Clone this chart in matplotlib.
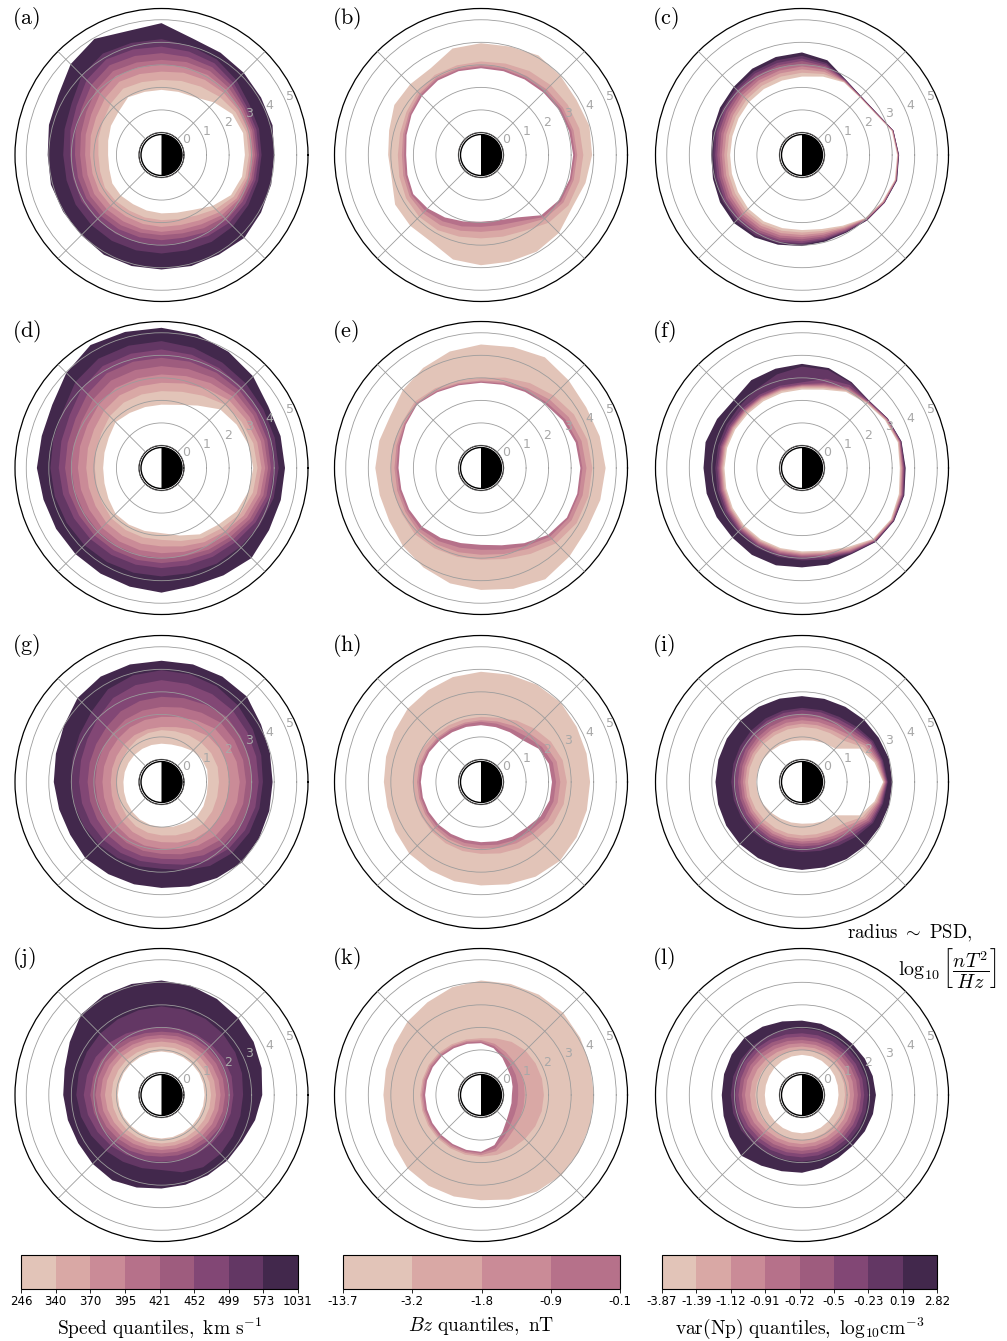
import numpy as np
import matplotlib
matplotlib.use("Agg")
import matplotlib.pyplot as plt
from matplotlib.colors import ListedColormap, BoundaryNorm
from matplotlib.cm import ScalarMappable
from matplotlib.patches import Circle, Wedge

plt.rcParams['mathtext.fontset'] = 'cm'

# Magnetic local time sectors, in degrees around the dial
mlt_deg = np.arange(0, 360, 15)

# Quantile-bin colours (light -> dark)
palette = ['#e2c4b8', '#d9a8a5', '#ca8b97', '#b6718a',
           '#9e5c7e', '#824775', '#633764', '#42284c']

speed_ticks = ['246', '340', '370', '395', '421', '452', '499', '573', '1031']
bz_ticks = ['-13.7', '-3.2', '-1.8', '-0.9', '-0.1']
np_ticks = ['-3.87', '-1.39', '-1.12', '-0.91', '-0.72', '-0.5', '-0.23', '0.19', '2.82']

# log10 PSD band boundaries per MLT sector (rows), innermost -> outermost (columns)
psd_a = [
    [2.70, 2.88, 2.97, 3.06, 3.15, 3.24, 3.33, 3.44, 4.00],
    [2.75, 2.90, 3.00, 3.08, 3.17, 3.26, 3.36, 3.48, 4.10],
    [2.63, 2.80, 2.95, 3.05, 3.15, 3.25, 3.35, 3.50, 4.10],
    [2.30, 2.65, 2.90, 3.08, 3.22, 3.38, 3.52, 3.70, 4.16],
    [1.96, 2.50, 2.85, 3.10, 3.30, 3.50, 3.70, 3.90, 4.24],
    [1.90, 2.40, 2.78, 3.05, 3.27, 3.50, 3.75, 4.00, 4.35],
    [1.89, 2.33, 2.70, 3.00, 3.22, 3.52, 3.81, 4.14, 4.85],
    [1.90, 2.35, 2.72, 3.02, 3.25, 3.55, 3.85, 4.15, 4.70],
    [1.96, 2.40, 2.75, 3.05, 3.30, 3.60, 3.90, 4.20, 4.95],
    [1.70, 2.20, 2.55, 2.85, 3.10, 3.40, 3.70, 4.00, 4.70],
    [1.59, 2.00, 2.35, 2.60, 2.85, 3.10, 3.35, 3.60, 4.29],
    [1.45, 1.90, 2.25, 2.48, 2.70, 2.95, 3.18, 3.45, 4.17],
    [1.37, 1.80, 2.17, 2.39, 2.61, 2.84, 3.06, 3.36, 4.05],
    [1.40, 1.82, 2.17, 2.40, 2.62, 2.84, 3.06, 3.36, 4.08],
    [1.52, 1.90, 2.20, 2.45, 2.65, 2.85, 3.10, 3.40, 4.04],
    [1.55, 1.88, 2.18, 2.42, 2.62, 2.82, 3.05, 3.40, 4.03],
    [1.52, 1.85, 2.15, 2.40, 2.60, 2.80, 3.05, 3.40, 4.11],
    [1.55, 1.87, 2.17, 2.40, 2.57, 2.78, 3.02, 3.38, 4.10],
    [1.59, 1.89, 2.19, 2.41, 2.56, 2.78, 3.00, 3.37, 4.08],
    [1.65, 1.95, 2.22, 2.43, 2.60, 2.80, 3.02, 3.38, 4.10],
    [1.81, 2.10, 2.35, 2.55, 2.75, 2.95, 3.15, 3.45, 4.10],
    [2.20, 2.40, 2.60, 2.78, 2.92, 3.08, 3.25, 3.48, 4.20],
    [2.56, 2.70, 2.85, 2.95, 3.05, 3.15, 3.30, 3.45, 4.10],
    [2.70, 2.85, 2.95, 3.03, 3.12, 3.22, 3.32, 3.44, 4.04],
]

psd_b = [
    [3.09, 3.18, 3.27, 3.54, 3.93],
    [3.05, 3.15, 3.25, 3.52, 3.98],
    [3.00, 3.10, 3.20, 3.45, 3.89],
    [2.92, 3.02, 3.12, 3.38, 3.98],
    [2.87, 2.95, 3.05, 3.30, 4.10],
    [2.85, 2.93, 3.02, 3.20, 3.98],
    [2.85, 2.93, 3.00, 3.15, 3.96],
    [2.85, 2.92, 2.99, 3.12, 3.89],
    [2.82, 2.90, 2.97, 3.10, 3.45],
    [2.70, 2.78, 2.85, 2.97, 3.44],
    [2.56, 2.63, 2.70, 2.82, 3.44],
    [2.42, 2.50, 2.58, 2.72, 3.22],
    [2.32, 2.41, 2.51, 2.69, 3.12],
    [2.38, 2.47, 2.57, 2.75, 3.10],
    [2.47, 2.56, 2.66, 2.84, 3.40],
    [2.35, 2.50, 2.65, 2.88, 3.44],
    [2.20, 2.40, 2.60, 2.85, 3.44],
    [2.05, 2.28, 2.48, 2.75, 3.80],
    [1.96, 2.19, 2.41, 2.70, 3.89],
    [2.00, 2.22, 2.45, 2.75, 3.90],
    [2.20, 2.40, 2.60, 2.88, 3.95],
    [2.78, 2.90, 3.00, 3.25, 3.89],
    [3.00, 3.10, 3.22, 3.48, 3.67],
    [3.08, 3.16, 3.26, 3.52, 3.80],
]

psd_c = [
    [3.22, 3.24, 3.25, 3.26, 3.27, 3.28, 3.29, 3.30, 3.31],
    [3.12, 3.14, 3.15, 3.16, 3.17, 3.18, 3.19, 3.20, 3.20],
    [2.72, 2.73, 2.74, 2.75, 2.76, 2.77, 2.78, 2.79, 2.80],
    [2.62, 2.63, 2.64, 2.65, 2.66, 2.67, 2.68, 2.69, 2.70],
    [2.72, 2.74, 2.76, 2.78, 2.80, 2.82, 2.84, 2.86, 2.87],
    [2.60, 2.72, 2.82, 2.92, 3.00, 3.08, 3.15, 3.22, 3.35],
    [2.48, 2.65, 2.80, 2.93, 3.05, 3.17, 3.28, 3.40, 3.55],
    [2.42, 2.60, 2.75, 2.88, 3.00, 3.12, 3.23, 3.35, 3.50],
    [2.38, 2.55, 2.70, 2.83, 2.95, 3.07, 3.18, 3.28, 3.42],
    [2.32, 2.48, 2.62, 2.75, 2.87, 2.98, 3.08, 3.18, 3.28],
    [2.25, 2.40, 2.53, 2.65, 2.77, 2.88, 2.98, 3.08, 3.20],
    [2.20, 2.35, 2.48, 2.60, 2.71, 2.82, 2.92, 3.02, 3.12],
    [2.19, 2.33, 2.45, 2.56, 2.66, 2.76, 2.85, 2.94, 3.03],
    [2.22, 2.36, 2.48, 2.59, 2.69, 2.79, 2.89, 2.98, 3.09],
    [2.28, 2.42, 2.55, 2.67, 2.78, 2.88, 2.98, 3.08, 3.20],
    [2.37, 2.50, 2.62, 2.73, 2.84, 2.95, 3.05, 3.15, 3.27],
    [2.40, 2.52, 2.63, 2.74, 2.85, 2.95, 3.04, 3.13, 3.22],
    [2.36, 2.48, 2.59, 2.70, 2.80, 2.89, 2.98, 3.06, 3.12],
    [2.33, 2.44, 2.55, 2.65, 2.74, 2.83, 2.91, 2.98, 3.04],
    [2.40, 2.49, 2.58, 2.66, 2.74, 2.81, 2.87, 2.92, 2.98],
    [2.62, 2.68, 2.73, 2.78, 2.83, 2.87, 2.91, 2.94, 2.97],
    [2.96, 2.98, 3.00, 3.02, 3.04, 3.06, 3.07, 3.08, 3.10],
    [3.12, 3.14, 3.16, 3.18, 3.20, 3.21, 3.22, 3.23, 3.24],
    [3.26, 3.28, 3.30, 3.31, 3.32, 3.33, 3.34, 3.35, 3.37],
]

psd_d = [
    [3.07, 3.26, 3.44, 3.60, 3.73, 3.86, 4.00, 4.20, 4.48],
    [3.00, 3.22, 3.40, 3.57, 3.72, 3.86, 4.00, 4.20, 4.47],
    [2.85, 3.10, 3.32, 3.52, 3.70, 3.86, 4.02, 4.22, 4.47],
    [2.68, 2.98, 3.25, 3.48, 3.68, 3.88, 4.07, 4.30, 4.75],
    [2.20, 2.70, 3.05, 3.35, 3.62, 3.88, 4.12, 4.40, 4.95],
    [1.90, 2.50, 2.88, 3.22, 3.55, 3.88, 4.20, 4.52, 5.13],
    [1.81, 2.41, 2.78, 3.15, 3.52, 3.89, 4.26, 4.63, 5.22],
    [1.80, 2.38, 2.75, 3.12, 3.50, 3.88, 4.25, 4.62, 5.25],
    [1.82, 2.35, 2.72, 3.10, 3.48, 3.85, 4.22, 4.60, 5.30],
    [1.88, 2.25, 2.60, 2.95, 3.30, 3.65, 4.00, 4.40, 4.97],
    [1.70, 2.08, 2.45, 2.80, 3.10, 3.40, 3.70, 4.05, 4.60],
    [1.62, 2.00, 2.38, 2.74, 3.03, 3.31, 3.60, 3.97, 4.50],
    [1.59, 1.96, 2.34, 2.71, 3.00, 3.28, 3.56, 3.93, 4.53],
    [1.62, 1.98, 2.34, 2.70, 2.98, 3.25, 3.52, 3.90, 4.42],
    [1.72, 2.05, 2.38, 2.70, 2.97, 3.22, 3.48, 3.86, 4.40],
    [1.88, 2.15, 2.45, 2.74, 2.98, 3.22, 3.46, 3.84, 4.40],
    [1.90, 2.18, 2.47, 2.76, 2.99, 3.22, 3.45, 3.82, 4.41],
    [1.89, 2.19, 2.48, 2.77, 3.00, 3.22, 3.44, 3.81, 4.45],
    [1.89, 2.19, 2.48, 2.78, 3.00, 3.22, 3.44, 3.81, 4.53],
    [2.10, 2.35, 2.60, 2.85, 3.05, 3.25, 3.47, 3.83, 4.42],
    [2.40, 2.60, 2.80, 3.00, 3.18, 3.36, 3.55, 3.90, 4.50],
    [2.56, 2.78, 2.98, 3.15, 3.32, 3.48, 3.65, 3.95, 4.65],
    [2.85, 3.05, 3.22, 3.38, 3.53, 3.67, 3.82, 4.05, 4.51],
    [3.00, 3.20, 3.38, 3.54, 3.68, 3.82, 3.96, 4.15, 4.48],
]

psd_e = [
    [3.41, 3.50, 3.68, 3.94, 4.53],
    [3.35, 3.45, 3.62, 3.88, 4.45],
    [3.20, 3.32, 3.50, 3.76, 4.39],
    [3.02, 3.12, 3.30, 3.55, 4.50],
    [2.90, 2.98, 3.10, 3.35, 4.67],
    [2.82, 2.88, 2.96, 3.15, 4.55],
    [2.78, 2.83, 2.88, 3.00, 4.48],
    [2.80, 2.85, 2.90, 3.02, 4.35],
    [2.88, 2.93, 2.98, 3.08, 4.13],
    [3.00, 3.04, 3.08, 3.16, 3.90],
    [2.85, 2.90, 2.95, 3.05, 3.64],
    [2.72, 2.80, 2.88, 3.03, 3.67],
    [2.66, 2.75, 2.84, 3.02, 3.69],
    [2.66, 2.75, 2.85, 3.03, 3.65],
    [2.68, 2.78, 2.88, 3.06, 3.70],
    [2.69, 2.82, 2.95, 3.15, 3.90],
    [2.58, 2.75, 2.92, 3.12, 4.10],
    [2.45, 2.66, 2.87, 3.08, 4.30],
    [2.41, 2.63, 2.85, 3.07, 4.41],
    [2.55, 2.75, 2.95, 3.18, 4.55],
    [2.85, 3.00, 3.15, 3.40, 4.70],
    [3.20, 3.32, 3.48, 3.72, 4.55],
    [3.40, 3.48, 3.64, 3.90, 4.43],
    [3.42, 3.50, 3.67, 3.93, 4.48],
]

psd_f = [
    [3.34, 3.38, 3.42, 3.45, 3.48, 3.51, 3.54, 3.57, 3.60],
    [3.40, 3.43, 3.46, 3.48, 3.50, 3.52, 3.54, 3.56, 3.57],
    [3.25, 3.28, 3.31, 3.33, 3.35, 3.37, 3.38, 3.39, 3.40],
    [3.05, 3.08, 3.11, 3.13, 3.15, 3.17, 3.19, 3.21, 3.22],
    [2.90, 2.95, 3.00, 3.05, 3.10, 3.15, 3.25, 3.35, 3.40],
    [2.60, 2.68, 2.74, 2.79, 2.84, 2.90, 3.10, 3.50, 3.59],
    [2.48, 2.56, 2.61, 2.65, 2.68, 2.72, 2.80, 3.50, 3.62],
    [2.45, 2.53, 2.58, 2.62, 2.66, 2.70, 2.78, 3.30, 3.56],
    [2.42, 2.50, 2.56, 2.60, 2.64, 2.68, 2.76, 3.05, 3.50],
    [2.40, 2.48, 2.54, 2.58, 2.62, 2.66, 2.74, 2.90, 3.27],
    [2.42, 2.49, 2.54, 2.58, 2.62, 2.67, 2.74, 2.86, 3.35],
    [2.44, 2.50, 2.55, 2.60, 2.65, 2.70, 2.76, 2.85, 3.43],
    [2.44, 2.50, 2.55, 2.60, 2.65, 2.70, 2.76, 2.85, 3.37],
    [2.48, 2.54, 2.59, 2.64, 2.69, 2.74, 2.80, 2.89, 3.38],
    [2.55, 2.61, 2.66, 2.71, 2.76, 2.81, 2.87, 2.96, 3.37],
    [2.62, 2.68, 2.73, 2.78, 2.83, 2.88, 2.94, 3.03, 3.37],
    [2.66, 2.72, 2.77, 2.82, 2.87, 2.92, 2.98, 3.07, 3.45],
    [2.68, 2.74, 2.79, 2.84, 2.89, 2.94, 3.00, 3.09, 3.47],
    [2.70, 2.76, 2.81, 2.86, 2.91, 2.96, 3.02, 3.10, 3.41],
    [2.80, 2.86, 2.91, 2.96, 3.01, 3.06, 3.12, 3.20, 3.44],
    [3.05, 3.12, 3.18, 3.23, 3.27, 3.31, 3.35, 3.38, 3.41],
    [3.45, 3.48, 3.51, 3.54, 3.56, 3.58, 3.60, 3.62, 3.64],
    [3.55, 3.58, 3.61, 3.63, 3.65, 3.67, 3.69, 3.70, 3.72],
    [3.45, 3.49, 3.53, 3.56, 3.59, 3.62, 3.65, 3.68, 3.70],
]

psd_g = [
    [1.06, 1.55, 2.00, 2.47, 2.75, 3.03, 3.31, 3.50, 3.93],
    [1.10, 1.58, 2.02, 2.45, 2.75, 3.05, 3.35, 3.58, 3.98],
    [1.05, 1.55, 1.98, 2.40, 2.73, 3.06, 3.40, 3.68, 4.10],
    [0.95, 1.48, 1.90, 2.35, 2.72, 3.10, 3.48, 3.80, 4.36],
    [0.80, 1.40, 1.70, 2.15, 2.55, 2.95, 3.50, 3.90, 4.40],
    [0.72, 1.33, 1.52, 1.98, 2.42, 2.85, 3.50, 3.94, 4.40],
    [0.70, 1.30, 1.44, 1.89, 2.33, 2.78, 3.52, 3.96, 4.38],
    [0.70, 1.25, 1.42, 1.85, 2.28, 2.72, 3.45, 3.90, 4.40],
    [0.70, 1.18, 1.40, 1.80, 2.20, 2.62, 3.30, 3.75, 4.40],
    [0.70, 1.08, 1.35, 1.72, 2.08, 2.45, 3.00, 3.40, 4.27],
    [0.69, 1.02, 1.30, 1.67, 2.00, 2.35, 2.80, 3.20, 4.00],
    [0.69, 0.99, 1.27, 1.64, 1.96, 2.30, 2.70, 3.08, 3.85],
    [0.69, 0.97, 1.25, 1.62, 1.94, 2.28, 2.66, 3.03, 3.78],
    [0.72, 1.00, 1.28, 1.64, 1.95, 2.28, 2.65, 3.00, 3.70],
    [0.78, 1.07, 1.36, 1.70, 1.99, 2.30, 2.64, 2.97, 3.68],
    [0.85, 1.17, 1.46, 1.78, 2.05, 2.35, 2.64, 2.93, 3.78],
    [0.92, 1.27, 1.56, 1.86, 2.11, 2.38, 2.63, 2.90, 3.72],
    [0.97, 1.33, 1.63, 1.92, 2.16, 2.40, 2.63, 2.87, 3.70],
    [1.00, 1.37, 1.67, 1.96, 2.19, 2.41, 2.63, 2.85, 3.70],
    [1.05, 1.45, 1.78, 2.08, 2.32, 2.55, 2.80, 3.05, 3.80],
    [1.10, 1.55, 1.92, 2.25, 2.50, 2.75, 3.05, 3.30, 3.92],
    [1.20, 1.62, 2.00, 2.38, 2.65, 2.92, 3.20, 3.45, 4.05],
    [1.15, 1.60, 2.02, 2.45, 2.72, 3.00, 3.28, 3.50, 4.00],
    [1.08, 1.56, 2.00, 2.47, 2.75, 3.03, 3.31, 3.50, 3.95],
]

psd_h = [
    [2.15, 2.33, 2.52, 2.81, 3.84],
    [2.12, 2.30, 2.48, 2.75, 3.85],
    [1.95, 2.12, 2.30, 2.58, 3.90],
    [1.62, 1.85, 2.05, 2.35, 4.00],
    [1.55, 1.72, 1.88, 2.15, 3.98],
    [1.52, 1.68, 1.78, 1.95, 3.93],
    [1.52, 1.67, 1.74, 1.89, 3.89],
    [1.53, 1.66, 1.73, 1.88, 3.82],
    [1.55, 1.67, 1.74, 1.90, 3.70],
    [1.60, 1.70, 1.77, 1.94, 3.60],
    [1.65, 1.74, 1.81, 1.99, 3.45],
    [1.67, 1.76, 1.84, 2.03, 3.36],
    [1.67, 1.76, 1.84, 2.04, 3.31],
    [1.67, 1.76, 1.84, 2.04, 3.30],
    [1.67, 1.77, 1.86, 2.06, 3.38],
    [1.67, 1.78, 1.89, 2.10, 3.50],
    [1.66, 1.79, 1.92, 2.14, 3.52],
    [1.66, 1.80, 1.94, 2.17, 3.56],
    [1.67, 1.81, 1.96, 2.19, 3.59],
    [1.72, 1.88, 2.03, 2.28, 3.70],
    [1.80, 1.98, 2.14, 2.40, 3.85],
    [1.86, 2.08, 2.25, 2.52, 3.95],
    [2.05, 2.25, 2.42, 2.70, 3.90],
    [2.15, 2.33, 2.52, 2.80, 3.86],
]

psd_i = [
    [2.60, 2.63, 2.66, 2.69, 2.72, 2.75, 2.78, 2.81, 3.01],
    [2.33, 2.40, 2.46, 2.52, 2.57, 2.62, 2.67, 2.72, 3.00],
    [1.96, 2.10, 2.22, 2.32, 2.42, 2.50, 2.57, 2.64, 2.93],
    [1.09, 1.60, 1.80, 1.95, 2.10, 2.22, 2.35, 2.45, 2.90],
    [1.00, 1.50, 1.66, 1.80, 1.95, 2.08, 2.22, 2.33, 2.85],
    [0.90, 1.46, 1.61, 1.76, 1.91, 2.05, 2.20, 2.30, 2.82],
    [0.85, 1.44, 1.59, 1.74, 1.89, 2.04, 2.19, 2.29, 2.81],
    [0.87, 1.42, 1.57, 1.72, 1.87, 2.02, 2.17, 2.28, 2.83],
    [0.90, 1.40, 1.55, 1.69, 1.83, 1.98, 2.13, 2.25, 2.85],
    [0.95, 1.40, 1.53, 1.66, 1.79, 1.93, 2.08, 2.21, 2.86],
    [1.00, 1.40, 1.52, 1.64, 1.76, 1.89, 2.03, 2.17, 2.85],
    [1.02, 1.40, 1.52, 1.63, 1.74, 1.86, 2.00, 2.15, 2.84],
    [1.03, 1.40, 1.52, 1.62, 1.73, 1.84, 1.99, 2.14, 2.84],
    [1.02, 1.39, 1.52, 1.62, 1.73, 1.84, 1.98, 2.13, 2.85],
    [0.98, 1.38, 1.52, 1.63, 1.73, 1.85, 1.97, 2.12, 2.88],
    [0.93, 1.37, 1.52, 1.63, 1.74, 1.85, 1.97, 2.12, 2.90],
    [0.88, 1.37, 1.52, 1.64, 1.74, 1.86, 1.96, 2.11, 2.90],
    [0.86, 1.37, 1.52, 1.64, 1.74, 1.86, 1.96, 2.11, 2.90],
    [0.85, 1.37, 1.52, 1.64, 1.74, 1.86, 1.96, 2.11, 2.90],
    [0.90, 1.40, 1.55, 1.68, 1.79, 1.90, 2.01, 2.16, 2.92],
    [1.00, 1.48, 1.63, 1.77, 1.89, 2.00, 2.12, 2.26, 2.95],
    [1.09, 1.60, 1.78, 1.92, 2.05, 2.17, 2.30, 2.42, 2.98],
    [1.96, 2.10, 2.22, 2.32, 2.42, 2.50, 2.57, 2.64, 2.98],
    [2.33, 2.40, 2.46, 2.52, 2.57, 2.62, 2.67, 2.72, 3.00],
]

psd_j = [
    [0.91, 1.20, 1.42, 1.62, 1.82, 1.99, 2.19, 2.62, 3.47],
    [0.92, 1.20, 1.42, 1.62, 1.82, 2.00, 2.22, 2.70, 3.60],
    [0.93, 1.19, 1.41, 1.60, 1.80, 1.98, 2.20, 2.78, 3.72],
    [0.93, 1.18, 1.40, 1.58, 1.77, 1.94, 2.15, 2.85, 3.82],
    [0.93, 1.17, 1.39, 1.56, 1.74, 1.90, 2.10, 2.90, 3.92],
    [0.93, 1.16, 1.38, 1.54, 1.70, 1.85, 2.05, 2.92, 4.02],
    [0.93, 1.15, 1.37, 1.52, 1.67, 1.81, 2.01, 2.93, 4.08],
    [0.93, 1.16, 1.38, 1.54, 1.69, 1.84, 2.05, 2.90, 4.10],
    [0.93, 1.18, 1.41, 1.58, 1.75, 1.92, 2.15, 2.88, 4.12],
    [0.94, 1.20, 1.45, 1.63, 1.82, 2.02, 2.28, 2.85, 4.05],
    [0.94, 1.21, 1.48, 1.67, 1.88, 2.09, 2.37, 2.82, 3.70],
    [0.94, 1.22, 1.50, 1.70, 1.91, 2.13, 2.42, 2.80, 3.45],
    [0.94, 1.22, 1.51, 1.71, 1.93, 2.16, 2.45, 2.78, 3.36],
    [0.94, 1.21, 1.48, 1.68, 1.89, 2.10, 2.38, 2.70, 3.30],
    [0.94, 1.20, 1.43, 1.62, 1.82, 2.02, 2.28, 2.60, 3.27],
    [0.93, 1.18, 1.38, 1.56, 1.74, 1.93, 2.18, 2.50, 3.32],
    [0.93, 1.16, 1.33, 1.50, 1.67, 1.85, 2.08, 2.42, 3.37],
    [0.93, 1.15, 1.31, 1.46, 1.62, 1.78, 2.00, 2.36, 3.25],
    [0.93, 1.15, 1.30, 1.44, 1.59, 1.74, 1.96, 2.33, 3.15],
    [0.93, 1.16, 1.31, 1.46, 1.61, 1.77, 2.00, 2.55, 3.12],
    [0.92, 1.17, 1.34, 1.50, 1.66, 1.82, 2.05, 2.70, 3.11],
    [0.92, 1.18, 1.37, 1.55, 1.72, 1.89, 2.10, 2.70, 3.12],
    [0.91, 1.19, 1.40, 1.59, 1.78, 1.95, 2.15, 2.65, 3.13],
    [0.91, 1.20, 1.42, 1.61, 1.81, 1.98, 2.18, 2.62, 3.30],
]

psd_k = [
    [0.37, 0.65, 0.94, 1.79, 4.01],
    [0.45, 0.70, 0.98, 1.80, 4.02],
    [0.55, 0.78, 1.02, 1.80, 4.08],
    [0.66, 0.88, 1.08, 1.79, 4.16],
    [0.90, 1.05, 1.20, 1.72, 4.14],
    [1.15, 1.25, 1.35, 1.60, 4.10],
    [1.30, 1.37, 1.44, 1.52, 4.08],
    [1.35, 1.42, 1.48, 1.55, 3.95],
    [1.40, 1.47, 1.53, 1.60, 3.75],
    [1.45, 1.52, 1.58, 1.65, 3.61],
    [1.47, 1.55, 1.62, 1.68, 3.45],
    [1.48, 1.56, 1.63, 1.69, 3.37],
    [1.48, 1.57, 1.64, 1.70, 3.33],
    [1.48, 1.57, 1.64, 1.70, 3.35],
    [1.49, 1.57, 1.64, 1.71, 3.45],
    [1.50, 1.58, 1.65, 1.72, 3.61],
    [1.51, 1.58, 1.66, 1.73, 3.65],
    [1.52, 1.59, 1.66, 1.74, 3.66],
    [1.52, 1.59, 1.67, 1.74, 3.67],
    [1.30, 1.45, 1.58, 1.75, 3.80],
    [0.90, 1.10, 1.30, 1.75, 3.95],
    [0.60, 0.85, 1.10, 1.76, 4.04],
    [0.45, 0.72, 1.00, 1.78, 4.03],
    [0.40, 0.67, 0.96, 1.79, 4.02],
]

psd_l = [
    [0.62, 0.91, 1.13, 1.31, 1.48, 1.62, 1.76, 1.93, 2.28],
    [0.64, 0.93, 1.14, 1.32, 1.49, 1.63, 1.77, 1.94, 2.25],
    [0.68, 0.95, 1.15, 1.32, 1.48, 1.62, 1.76, 1.93, 2.22],
    [0.72, 0.97, 1.15, 1.31, 1.46, 1.60, 1.74, 1.92, 2.19],
    [0.75, 0.98, 1.15, 1.30, 1.45, 1.59, 1.74, 1.94, 2.22],
    [0.77, 0.99, 1.15, 1.30, 1.44, 1.59, 1.74, 1.95, 2.27],
    [0.78, 1.00, 1.15, 1.30, 1.44, 1.59, 1.74, 1.96, 2.30],
    [0.77, 1.01, 1.17, 1.33, 1.48, 1.63, 1.78, 1.99, 2.38],
    [0.75, 1.02, 1.20, 1.37, 1.53, 1.69, 1.84, 2.04, 2.50],
    [0.72, 1.04, 1.24, 1.43, 1.59, 1.75, 1.90, 2.10, 2.60],
    [0.68, 1.06, 1.28, 1.49, 1.64, 1.80, 1.95, 2.14, 2.60],
    [0.66, 1.07, 1.30, 1.52, 1.66, 1.81, 1.96, 2.16, 2.58],
    [0.65, 1.08, 1.31, 1.53, 1.67, 1.82, 1.96, 2.16, 2.56],
    [0.66, 1.07, 1.30, 1.51, 1.66, 1.81, 1.96, 2.16, 2.60],
    [0.67, 1.05, 1.27, 1.46, 1.62, 1.76, 1.92, 2.12, 2.70],
    [0.68, 1.03, 1.23, 1.40, 1.56, 1.70, 1.86, 2.06, 2.81],
    [0.69, 1.01, 1.20, 1.36, 1.52, 1.66, 1.81, 2.01, 2.62],
    [0.70, 1.00, 1.18, 1.34, 1.49, 1.63, 1.78, 1.97, 2.50],
    [0.70, 1.00, 1.18, 1.33, 1.48, 1.62, 1.77, 1.96, 2.45],
    [0.69, 0.98, 1.17, 1.33, 1.48, 1.62, 1.77, 1.95, 2.35],
    [0.67, 0.96, 1.16, 1.33, 1.48, 1.62, 1.77, 1.94, 2.22],
    [0.65, 0.94, 1.15, 1.32, 1.48, 1.62, 1.77, 1.94, 2.18],
    [0.63, 0.92, 1.14, 1.31, 1.48, 1.62, 1.76, 1.93, 2.22],
    [0.62, 0.91, 1.13, 1.31, 1.48, 1.62, 1.76, 1.93, 2.26],
]

# Band colours from the innermost band outwards
speed_bands = palette
bz_bands = [palette[3], palette[2], palette[1], palette[0]]
np_bands = palette

panels = [
    ('(a)', psd_a, speed_bands), ('(b)', psd_b, bz_bands), ('(c)', psd_c, np_bands),
    ('(d)', psd_d, speed_bands), ('(e)', psd_e, bz_bands), ('(f)', psd_f, np_bands),
    ('(g)', psd_g, speed_bands), ('(h)', psd_h, bz_bands), ('(i)', psd_i, np_bands),
    ('(j)', psd_j, speed_bands), ('(k)', psd_k, bz_bands), ('(l)', psd_l, np_bands),
]

W, H = 1007, 1341
fig = plt.figure(figsize=(W / 100, H / 100), dpi=100)

col_cx = [161.5, 481.0, 802.0]
row_cy = [155.0, 468.0, 782.0, 1095.0]
half = 146.5
earth_r = 20.5


def draw_panel(ax, rows, bands):
    bounds = np.asarray(rows, dtype=float)
    bounds = np.vstack([bounds, bounds[:1]])
    theta = np.radians(np.append(mlt_deg, mlt_deg[0]))
    n = len(bands)
    # paint outermost boundary first, then each inner boundary on top
    for k in range(n, 0, -1):
        ax.fill(theta, bounds[:, k], color=bands[k - 1], lw=0, zorder=1)
    ax.fill(theta, bounds[:, 0], color='white', lw=0, zorder=1)

    ax.set_rorigin(-1)
    ax.set_ylim(0, 5.5)
    ax.set_yticks([0, 1, 2, 3, 4, 5])
    ax.set_yticklabels(['0', '1', '2', '3', '4', '5'])
    ax.set_rlabel_position(22.5)
    ax.set_xticks(np.radians([45, 135, 225, 315]))
    ax.set_xticklabels([])
    ax.tick_params(axis='y', labelsize=9, labelcolor='#a8a8a8', pad=0)
    ax.grid(True, color='#9c9c9c', lw=0.6)
    ax.set_axisbelow(False)
    ax.spines['polar'].set_linewidth(0.9)


def draw_earth(cx, cy):
    s = 2 * (earth_r + 2)
    eax = fig.add_axes([(cx - s / 2) / W, (H - cy - s / 2) / H, s / W, s / H])
    eax.set_xlim(-s / 2, s / 2)
    eax.set_ylim(-s / 2, s / 2)
    eax.set_aspect('equal')
    eax.axis('off')
    eax.add_patch(Circle((0, 0), earth_r, facecolor='white', edgecolor='none'))
    eax.add_patch(Wedge((0, 0), earth_r, -90, 90, facecolor='black', edgecolor='none'))
    eax.add_patch(Circle((0, 0), earth_r, facecolor='none', edgecolor='black', lw=1.0))


for idx, (tag, rows, bands) in enumerate(panels):
    r, c = divmod(idx, 3)
    cx, cy = col_cx[c], row_cy[r]
    ax = fig.add_axes([(cx - half) / W, (H - cy - half) / H, 2 * half / W, 2 * half / H],
                      projection='polar')
    draw_panel(ax, rows, bands)
    draw_earth(cx, cy)
    fig.text((cx - half - 3) / W, 1 - (cy - half + 10) / H, r'$\mathrm{%s}$' % tag,
             ha='left', va='center', fontsize=16)


def add_cbar(x0, x1, colors, labels, title):
    cax = fig.add_axes([x0 / W, (H - 1289) / H, (x1 - x0) / W, 34 / H])
    n = len(colors)
    sm = ScalarMappable(norm=BoundaryNorm(np.arange(n + 1), n), cmap=ListedColormap(colors))
    cb = fig.colorbar(sm, cax=cax, orientation='horizontal', ticks=np.arange(n + 1))
    cb.ax.set_xticklabels(labels, fontsize=8.5)
    cb.outline.set_linewidth(0.8)
    cb.ax.tick_params(length=3, width=0.6, pad=1.5)
    cb.set_label(title, fontsize=14, labelpad=5)


add_cbar(21, 298, palette, speed_ticks, r'$\mathrm{Speed\ quantiles,\ km\ s^{-1}}$')
add_cbar(343, 620, palette[:4], bz_ticks, r'$Bz\ \mathrm{quantiles,\ nT}$')
add_cbar(662, 937, palette, np_ticks, r'$\mathrm{var(Np)\ quantiles,\ log_{10}cm^{-3}}$')

fig.text(910 / W, 1 - 933 / H, r'$\mathrm{radius}\ \sim\ \mathrm{PSD,}$',
         ha='center', va='center', fontsize=13.5)
fig.text(997 / W, 1 - 968 / H, r'$\log_{10}\left[\dfrac{nT^2}{Hz}\right]$',
         ha='right', va='center', fontsize=14.5)

fig.savefig('out.png', dpi=100)
